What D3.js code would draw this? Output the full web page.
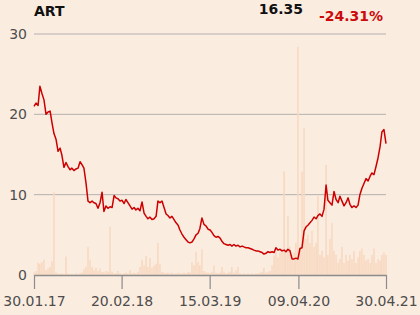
<!DOCTYPE html>
<html>
<head>
<meta charset="utf-8">
<script src="https://cdn.jsdelivr.net/npm/d3@7"></script>
<style>
  html, body { margin: 0; padding: 0; background: #fbece0; }
  svg { display: block; font-family: "DejaVu Sans", sans-serif; }
</style>
</head>
<body>
<div id="chart"></div>
<script>
// Données *****************************************************************
const titre = "ART";
const dernierCours = "16.35";
const variation = "-24.31%";

const dateDebut = "30.01.17";
const dateFin = "30.04.21";
const tickLabels = ["30.01.17", "20.02.18", "15.03.19", "09.04.20", "30.04.21"];
const yTicks = [0, 10, 20, 30];

// cours de l'action (points réguliers entre dateDebut et dateFin)
const cours = [
  21.0, 21.4, 21.1, 23.5, 22.6, 21.8, 20.0, 20.3, 20.4, 19.0,
  17.6, 16.9, 15.4, 15.8, 14.9, 13.4, 14.0, 13.5, 13.1, 13.3,
  13.0, 13.2, 13.3, 14.1, 13.7, 13.3, 11.5, 9.2, 9.0, 9.2,
  9.0, 8.9, 8.3, 9.0, 10.3, 7.9, 8.6, 8.3, 8.5, 8.4,
  9.9, 9.6, 9.5, 9.2, 9.3, 8.9, 9.4, 9.0, 8.6, 8.2,
  8.4, 8.1, 8.3, 8.0, 9.1, 7.7, 7.3, 7.0, 7.2, 6.9,
  7.0, 7.3, 9.2, 9.0, 9.2, 8.4, 7.6, 7.4, 7.1, 7.3,
  6.9, 6.5, 6.2, 5.6, 5.1, 4.7, 4.4, 4.1, 4.0, 4.1,
  4.5, 5.0, 5.2, 5.8, 7.1, 6.3, 6.1, 5.7, 5.6, 5.3,
  4.9, 4.7, 4.8, 4.6, 4.2, 3.9, 3.8, 3.7, 3.8, 3.6,
  3.8, 3.6, 3.7, 3.5, 3.6, 3.5, 3.4, 3.4, 3.3, 3.2,
  3.1, 3.0, 3.0, 2.9, 2.8, 2.6, 2.7, 2.9, 2.8, 2.9,
  2.8, 3.4, 3.1, 3.2, 3.0, 3.1, 2.9, 3.2, 3.0, 2.0,
  2.0, 2.1, 2.0, 3.3, 3.4, 5.5, 6.0, 6.2, 6.5, 6.8,
  7.2, 7.0, 7.4, 7.6, 7.3, 8.2, 11.2, 9.3, 9.0, 8.7,
  10.4, 9.4, 9.0, 9.8, 9.2, 8.6, 9.0, 9.6, 8.8, 8.4,
  8.6, 8.4, 8.7, 10.0, 10.8, 11.4, 12.0, 11.7, 12.3, 12.7,
  12.5, 13.5, 14.6, 16.0, 17.8, 18.1, 16.35
];

// volumes échangés (mêmes dates)
const volumes = [
  0.3, 0.5, 1.5, 1.4, 1.6, 1.9, 0.6, 0.8, 1.0, 1.7,
  10.3, 0.3, 0.2, 0.1, 0.2, 0.1, 2.3, 0.2, 0.1, 0.1,
  0.1, 0.2, 0.1, 0.2, 0.3, 0.7, 1.0, 3.5, 1.9, 1.0,
  0.6, 0.9, 0.5, 0.8, 0.4, 0.3, 0.5, 0.4, 6.0, 0.4,
  0.2, 0.2, 0.5, 0.2, 0.1, 0.2, 0.3, 0.2, 0.6, 0.2,
  0.3, 0.2, 0.4, 1.0, 1.9, 1.2, 2.4, 1.0, 2.1, 0.9,
  1.2, 1.4, 4.0, 1.4, 0.4, 0.3, 0.2, 0.3, 0.2, 0.3,
  0.2, 0.2, 0.3, 0.2, 0.2, 0.3, 0.2, 0.4, 0.3, 1.6,
  1.2, 2.9, 1.6, 1.2, 3.2, 0.5, 0.3, 0.3, 0.2, 0.4,
  1.2, 0.3, 0.2, 0.3, 1.0, 0.4, 0.2, 0.3, 0.4, 1.0,
  0.3, 0.6, 1.0, 0.2, 0.1, 0.2, 0.1, 0.2, 0.1, 0.2,
  0.1, 0.2, 0.2, 0.3, 0.4, 0.9, 0.3, 0.4, 0.5, 1.2,
  2.4, 2.9, 2.2, 2.8, 3.3, 12.9, 3.0, 7.3, 3.5, 2.5,
  2.8, 4.0, 28.4, 3.5, 12.9, 18.3, 4.5, 5.0, 4.0, 5.5,
  3.5, 4.0, 9.8, 2.5, 3.0, 2.2, 13.7, 2.5, 4.5, 6.5,
  3.0, 2.5, 1.5, 2.0, 3.5, 1.5, 2.5, 1.8, 2.5, 2.0,
  3.0, 1.5, 2.2, 3.0, 3.3, 2.5, 1.8, 2.0, 1.5, 2.5,
  3.3, 1.5, 2.0, 1.8, 2.5, 2.8, 2.5
];

// Mise en page ************************************************************
const width = 420, height = 315;
const margin = { top: 34, right: 34, bottom: 40, left: 34 };

const parseDate = d3.timeParse("%d.%m.%y");
const debut = parseDate(dateDebut);
const fin = parseDate(dateFin);
const nbJours = d3.timeDay.count(debut, fin);

// dates des points, réparties régulièrement sur la période
const dates = cours.map((c, i) =>
  d3.timeDay.offset(debut, Math.round(i * nbJours / (cours.length - 1))));

const x = d3.scaleTime()
  .domain([debut, fin])
  .range([margin.left, width - margin.right]);

const y = d3.scaleLinear()
  .domain([0, 30])
  .range([height - margin.bottom, margin.top]);

const svg = d3.select("#chart")
  .append("svg")
  .attr("width", width)
  .attr("height", height);

// lignes de grille
svg.append("g")
  .selectAll("line")
  .data(yTicks.filter(t => t > 0))
  .enter()
  .append("line")
  .attr("x1", margin.left)
  .attr("x2", width - margin.right)
  .attr("y1", d => y(d))
  .attr("y2", d => y(d))
  .style("stroke", "#b3b1ae")
  .style("stroke-width", 1);

// barres de volume
const barW = (x.range()[1] - x.range()[0]) / cours.length * 0.8;
svg.append("g")
  .selectAll("rect")
  .data(volumes)
  .enter()
  .append("rect")
  .attr("x", (d, i) => x(dates[i]) - barW / 2)
  .attr("y", d => y(d))
  .attr("width", barW)
  .attr("height", d => y(0) - y(d))
  .attr("fill", "#f8d9c1");

// axe y (labels seulement)
svg.append("g")
  .selectAll("text")
  .data(yTicks)
  .enter()
  .append("text")
  .attr("x", 27)
  .attr("y", d => y(d))
  .attr("dy", "0.35em")
  .attr("text-anchor", "end")
  .style("font-size", "14px")
  .style("fill", "#4d4d4d")
  .text(d => d);

// axe x
const xAxis = d3.axisBottom(x)
  .tickValues(tickLabels.map(parseDate))
  .tickFormat(d3.timeFormat("%d.%m.%y"))
  .tickSize(14)
  .tickPadding(7)
  .tickSizeOuter(0);

const gx = svg.append("g")
  .attr("transform", `translate(0,${y(0)})`)
  .call(xAxis);
gx.select(".domain").style("stroke", "#8c8c8c").style("stroke-width", 1.5);
gx.selectAll(".tick line").style("stroke", "#8c8c8c").style("stroke-width", 1.2);
gx.selectAll(".tick text")
  .style("font-size", "14px")
  .style("font-family", "DejaVu Sans, sans-serif")
  .style("fill", "#4d4d4d");

// courbe du cours
const line = d3.line()
  .x((d, i) => x(dates[i]))
  .y(d => y(d));

svg.append("path")
  .datum(cours)
  .attr("d", line)
  .attr("fill", "none")
  .style("stroke", "#cc0000")
  .style("stroke-width", 1.5)
  .style("stroke-linejoin", "round");

// titre et chiffres
svg.append("text")
  .attr("x", 34)
  .attr("y", 16)
  .style("font-size", "14px")
  .style("font-weight", "bold")
  .style("fill", "#111")
  .text(titre);

svg.append("text")
  .attr("x", 303)
  .attr("y", 14)
  .attr("text-anchor", "end")
  .style("font-size", "14px")
  .style("font-weight", "bold")
  .style("fill", "#111")
  .text(dernierCours);

svg.append("text")
  .attr("x", 383)
  .attr("y", 21)
  .attr("text-anchor", "end")
  .style("font-size", "14px")
  .style("font-weight", "bold")
  .style("fill", "#cc0a0a")
  .text(variation);
</script>
</body>
</html>
